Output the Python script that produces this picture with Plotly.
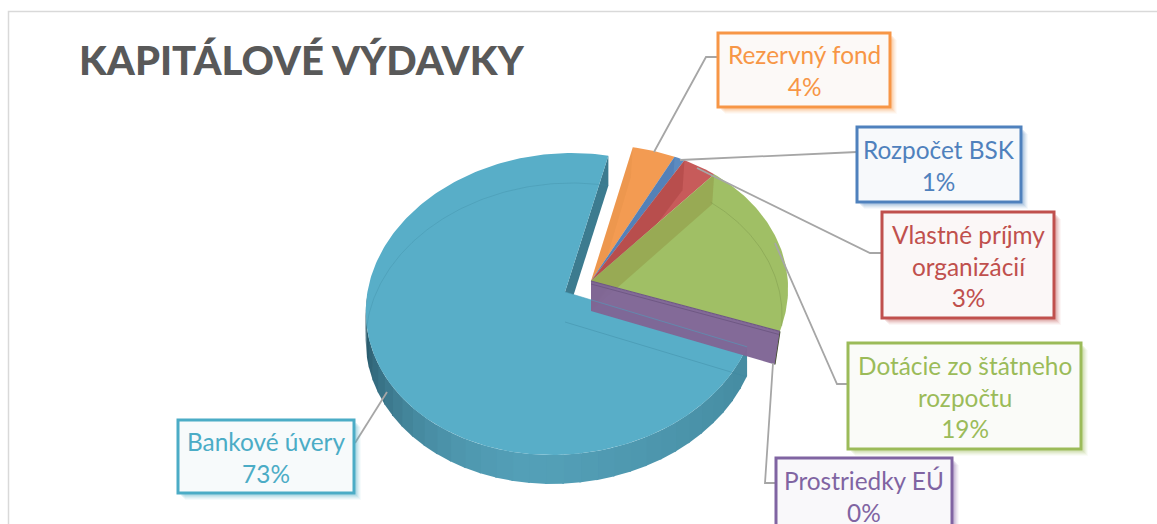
import math
import plotly.graph_objects as go

# ---- data ----
TITLE = "KAPITÁLOVÉ VÝDAVKY"
categories = ["Rezervný fond", "Rozpočet BSK", "Vlastné príjmy organizácií",
              "Dotácie zo štátneho rozpočtu", "Prostriedky EÚ", "Bankové úvery"]
values = [3.6, 0.9, 2.9, 19.0, 0.1, 73.4]

# ---- styling / layout ----
W, H = 1157, 524
line_colors = ["#f79646", "#4f81bd", "#c0504d", "#9bbb59", "#8064a2", "#4bacc6"]
top_colors = ["#f39b52", "#5c8bc0", "#c75b5a", "#a0bf65", "#7f6595", "#58aec8"]
wrapped = {"Vlastné príjmy organizácií": "Vlastné príjmy<br>organizácií",
           "Dotácie zo štátneho rozpočtu": "Dotácie zo štátneho<br>rozpočtu"}
boxes = [(718, 33, 890, 107), (857, 127, 1021, 202), (882, 212, 1054, 318),
         (848, 343, 1081, 449), (776, 458, 952, 534), (178, 420, 354, 493)]
leaders = [[(654, 152), (706, 57), (718, 57)],
           [(680, 160), (846, 152), (857, 152)],
           [(697, 168), (870, 253), (882, 253)],
           [(775, 243), (837, 384), (848, 384)],
           [(773, 363), (765, 483), (776, 483)],
           [(387, 392), (355, 443), (355, 443)]]
DEPTH = 30
MAIN = dict(apex=(565, 292), c=(562, 304), rx=196, ry=151, skew=10, start=106.5)
EXPL = dict(apex=(591, 281), c=(593, 293), rx=195, ry=148, skew=6, start=10)

deg = [v * 3.6 for v in values]


def arc_pt(g, t, dy=0):
    r = math.radians(t)
    return (g["c"][0] + g["rx"] * math.sin(r) + g["skew"] * math.cos(r),
            g["c"][1] - g["ry"] * math.cos(r) + dy)


def arc(g, a, b, dy=0, step=1.0):
    n = max(2, int(abs(b - a) / step) + 1)
    return [arc_pt(g, a + (b - a) * i / (n - 1), dy) for i in range(n)]


def poly(pts, fill=None, line=None, width=0, closed=True):
    xs = [p[0] for p in pts]
    ys = [p[1] for p in pts]
    if closed:
        xs.append(xs[0])
        ys.append(ys[0])
    return go.Scatter(x=xs, y=ys, mode="lines",
                      fill="toself" if fill else "none",
                      fillcolor=fill,
                      line=dict(color=line or "rgba(0,0,0,0)", width=width),
                      hoverinfo="skip", showlegend=False)


def mix(c1, c2, f):
    return "rgb(%d,%d,%d)" % tuple(c1[i] + (c2[i] - c1[i]) * f for i in range(3))


fig = go.Figure()

# ---- main (exploded away) slice: Bankové úvery ----
a0 = MAIN["start"]
a1 = a0 + deg[5]
DARK, MID, RIGHT = (30, 72, 88), (84, 160, 184), (70, 140, 162)
t = a0
while t < 272:
    tn = min(t + 5, 272)
    if t > 180:
        col = mix(MID, DARK, ((t - 180) / 90) ** 1.8)
    else:
        col = mix(RIGHT, MID, (t - a0) / (180 - a0))
    seg = arc(MAIN, t, tn + 0.5) + arc(MAIN, tn + 0.5, t, DEPTH - 1)
    fig.add_trace(poly(seg, fill=col))
    t = tn

# inner cut face
ap = MAIN["apex"]
e = arc_pt(MAIN, a1)
fig.add_trace(poly([ap, e, (e[0], e[1] + DEPTH), (ap[0], ap[1] + DEPTH)], fill="#3c7b8f"))
# top face
fig.add_trace(poly([ap] + arc(MAIN, a0, a1), fill=top_colors[5]))
# faint see-through outline of the bottom face
fig.add_trace(poly(arc(MAIN, 272, a1, DEPTH), line="rgba(60,135,160,0.3)", width=1, closed=False))
bs = (ap[0], ap[1] + DEPTH)
s = arc_pt(MAIN, a0)
fig.add_trace(poly([bs, (s[0], s[1] + DEPTH)], line="rgba(60,135,160,0.4)", width=1, closed=False))

# ---- exploded slices ----
ax, ay = EXPL["apex"]
walls = ["rgba(200,120,50,0.12)", "rgba(60,100,160,0.25)", "rgba(150,50,50,0.3)",
         "rgba(140,140,60,0.4)"]
cum = EXPL["start"]
for i in range(4):
    b = cum + deg[i]
    fig.add_trace(poly([(ax, ay)] + arc(EXPL, cum, b), fill=top_colors[i]))
    p = arc_pt(EXPL, cum)
    fig.add_trace(poly([(ax, ay), p, (p[0] - 2, p[1] + DEPTH), (ax, ay + DEPTH)], fill=walls[i]))
    cum = b
# faint see-through bottom arc on the green slice
g0 = cum - deg[3]
inner = dict(EXPL, rx=EXPL["rx"] - 6)
fig.add_trace(poly(arc(inner, g0, 92, DEPTH - 2), line="rgba(125,150,75,0.45)", width=1, closed=False))
# dark sliver of the outer wall
q = arc_pt(EXPL, cum)
fig.add_trace(poly([q, (q[0] - 5, q[1] + DEPTH + 3)], line="#3c4a22", width=1.5, closed=False))

# purple side face (the near-zero slice seen edge on)
fig.add_trace(poly([(ax, ay), q, (q[0] - 5, q[1] + DEPTH + 3), (ax, ay + DEPTH)],
                   fill="rgba(127,101,149,0.97)"))
fig.add_trace(poly([(ax, ay), q], line="#6f5884", width=1.2, closed=False))
fig.add_trace(poly([(q[0] - 1, q[1] + 3), (ax, ay + 3)], line="#6f5884", width=1, closed=False))
fig.add_trace(poly([ap, s], line="rgba(75,160,190,0.55)", width=1, closed=False))

# ---- leader lines ----
for pts in leaders:
    fig.add_trace(poly(pts, line="#a6a6a6", width=1.8, closed=False))

shapes = []
annotations = []
shapes.append(dict(type="path", path=f"M8.5,{H} L8.5,11.5 L{W},11.5",
                   line=dict(color="#d9d9d9", width=1.5), layer="below"))

total = sum(values)
for name, col, (x0, y0, x1, y1) in zip(categories, line_colors, boxes):
    r, gg, bb = int(col[1:3], 16), int(col[3:5], 16), int(col[5:7], 16)
    for off, alpha in ((7, 0.05), (6, 0.07), (5, 0.09), (4, 0.12), (3, 0.14)):
        shapes.append(dict(type="rect", x0=x0 + off, y0=y0 + off, x1=x1 + off, y1=y1 + off,
                           line=dict(width=0), fillcolor=f"rgba({r},{gg},{bb},{alpha})", layer="above"))
    shapes.append(dict(type="rect", x0=x0, y0=y0, x1=x1, y1=y1,
                       line=dict(color=col, width=3),
                       fillcolor=mix((253, 253, 253), (r, gg, bb), 0.03), layer="above"))
    pct = round(values[categories.index(name)] / total * 100)
    text = wrapped.get(name, name) + f"<br>{pct}%"
    annotations.append(dict(x=(x0 + x1) / 2, y=(y0 + y1) / 2 + 0.5, xref="x", yref="y",
                            text=text, showarrow=False, align="center",
                            xanchor="center", yanchor="middle",
                            font=dict(family="Lato", size=24.4, color=col)))

annotations.append(dict(x=77, y=60, xref="x", yref="y", text=TITLE, showarrow=False,
                        xanchor="left", yanchor="middle",
                        font=dict(family="Lato", size=40, color="#595959", weight=900)))

fig.update_layout(
    width=W, height=H, margin=dict(l=0, r=0, t=0, b=0),
    paper_bgcolor="white", plot_bgcolor="white", showlegend=False,
    xaxis=dict(range=[0, W], visible=False, fixedrange=True),
    yaxis=dict(range=[H, 0], visible=False, fixedrange=True),
    shapes=shapes, annotations=annotations,
)
fig.write_html("out.html", config={"displayModeBar": False},
               post_script="document.body.style.margin='0';document.documentElement.style.overflow='hidden';")
